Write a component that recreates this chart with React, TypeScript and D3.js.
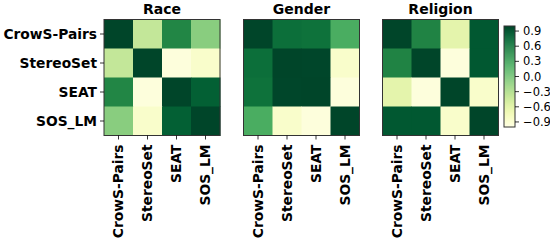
import React from 'react';
import * as d3 from 'd3';

const metrics = ['CrowS-Pairs', 'StereoSet', 'SEAT', 'SOS_LM'];
const panelTitles = ['Race', 'Gender', 'Religion'];

// correlation matrices
const raceCorr = [
  [1, -0.38, 0.5, -0.08],
  [-0.38, 1, -0.95, -0.85],
  [0.5, -0.95, 1, 0.8],
  [-0.08, -0.85, 0.8, 1],
];
const genderCorr = [
  [1, 0.68, 0.66, 0.22],
  [0.68, 1, 0.99, -0.85],
  [0.66, 0.99, 1, -0.95],
  [0.22, -0.85, -0.95, 1],
];
const religionCorr = [
  [1, 0.52, -0.6, 0.86],
  [0.52, 1, -0.95, 0.86],
  [-0.6, -0.95, 1, -0.85],
  [0.86, 0.86, -0.85, 1],
];
const cbTicks = [0.9, 0.6, 0.3, 0.0, -0.3, -0.6, -0.9];

const W = 550;
const H = 240;
const panelLeft = [104, 243.5, 382.5];
const top = 19.5;
const size = 116;
const font = 'DejaVu Sans, sans-serif';

const App = () => {
  const matrices = [raceCorr, genderCorr, religionCorr];
  const band = d3.scaleBand<string>().domain(metrics).range([0, size]);
  const color = d3.scaleSequential(d3.interpolateYlGn).domain([-1, 1]);

  // colorbar
  const cbX = 504;
  const cbW = 11;
  const cbTop = 26;
  const cbBottom = 127;
  const cbY = d3.scaleLinear().domain([-1, 1]).range([cbBottom, cbTop]);
  const steps = d3.range(0, 100).map(i => -1 + (i * 2) / 100);

  return (
    <svg width={W} height={H} style={{ position: 'absolute', left: 0, top: 0 }}>
      <rect width={W} height={H} fill="#fff" />
      {matrices.map((m, p) => {
        const x0 = panelLeft[p];
        return (
          <g key={p} transform={`translate(${x0},${top})`}>
            {m.map((row, i) =>
              row.map((v, j) => (
                <rect
                  key={`${i}-${j}`}
                  x={band(metrics[j])}
                  y={band(metrics[i])}
                  width={band.bandwidth() + 0.5}
                  height={band.bandwidth() + 0.5}
                  fill={color(v)}
                />
              ))
            )}
            <rect x={0} y={0} width={size} height={size} fill="none" stroke="#333" strokeWidth={1} />
            <text
              x={size / 2}
              y={-6}
              textAnchor="middle"
              fontFamily={font}
              fontWeight="bold"
              fontSize={14}
            >
              {panelTitles[p]}
            </text>
            {metrics.map(name => {
              const c = (band(name) as number) + band.bandwidth() / 2;
              return (
                <g key={name}>
                  <line x1={c} x2={c} y1={size} y2={size + 4} stroke="#000" strokeWidth={0.8} />
                  <text
                    transform={`translate(${c},${size + 9}) rotate(-90)`}
                    textAnchor="end"
                    dy="0.35em"
                    fontFamily={font}
                    fontWeight="bold"
                    fontSize={13.8}
                  >
                    {name}
                  </text>
                </g>
              );
            })}
            {p === 0 &&
              metrics.map(name => {
                const c = (band(name) as number) + band.bandwidth() / 2;
                return (
                  <g key={name}>
                    <line x1={-4} x2={0} y1={c} y2={c} stroke="#000" strokeWidth={0.8} />
                    <text
                      x={-7}
                      y={c}
                      dy="0.35em"
                      textAnchor="end"
                      fontFamily={font}
                      fontWeight="bold"
                      fontSize={13.8}
                    >
                      {name}
                    </text>
                  </g>
                );
              })}
          </g>
        );
      })}
      <g>
        {steps.map(s => (
          <rect
            key={s}
            x={cbX}
            y={cbY(s + 0.02)}
            width={cbW}
            height={cbY(s) - cbY(s + 0.02) + 0.3}
            fill={color(s + 0.01)}
          />
        ))}
        <rect x={cbX} y={cbTop} width={cbW} height={cbBottom - cbTop} fill="none" stroke="#333" strokeWidth={1} />
        {cbTicks.map(t => (
          <g key={t}>
            <line x1={cbX + cbW} x2={cbX + cbW + 4} y1={cbY(t)} y2={cbY(t)} stroke="#000" strokeWidth={0.8} />
            <text
              x={cbX + cbW + 8}
              y={cbY(t)}
              dy="0.35em"
              fontFamily={font}
              fontSize={11.5}
            >
              {d3.format('.1f')(t).replace('-', '\u2212')}
            </text>
          </g>
        ))}
      </g>
    </svg>
  );
};

export default App;
